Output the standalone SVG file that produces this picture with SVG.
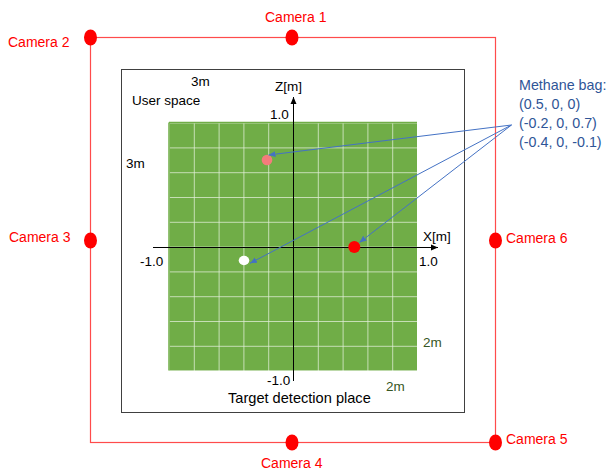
<svg xmlns="http://www.w3.org/2000/svg" width="609" height="471" viewBox="0 0 609 471">
  <defs>
    <marker id="axisHead" markerWidth="8" markerHeight="8" refX="7" refY="4" orient="auto" markerUnits="userSpaceOnUse">
      <path d="M0,1 L7,4 L0,7 Z" fill="#000"/>
    </marker>
    <marker id="leadHead" markerWidth="8" markerHeight="8" refX="7" refY="4" orient="auto" markerUnits="userSpaceOnUse">
      <path d="M0,1 L7,4 L0,7 Z" fill="#4472C4"/>
    </marker>
    <pattern id="grid" x="169" y="122.6" width="24.8" height="24.8" patternUnits="userSpaceOnUse">
      <rect width="24.8" height="24.8" fill="#70AD47"/>
      <path d="M0,0 H24.8 M0,0 V24.8" stroke="#E2EFD9" stroke-width="1.5" fill="none"/>
    </pattern>
  </defs>
  <style>
    text { font-family: "Liberation Sans", Arial, sans-serif; font-size: 13.5px; fill: #000; }
    .cam { fill: #FF0000; font-size: 14px; }
    .camdot { fill: #FF0000; }
    .bag { fill: #2F5597; font-size: 14.3px; }
    .dim { fill: #375623; }
    .lead { stroke: #4472C4; stroke-width: 1; fill: none; marker-end: url(#leadHead); }
    .axis { stroke: #000; stroke-width: 1; fill: none; }
  </style>

  <rect width="609" height="471" fill="#FFFFFF"/>

  <!-- camera rig frame -->
  <g id="frame">
    <rect x="90.5" y="37.5" width="405" height="405" fill="none" stroke="#FF4B4B" stroke-width="1.2"/>
  </g>

  <!-- user space -->
  <g id="user-space">
    <rect x="121.5" y="69.5" width="343" height="343" fill="none" stroke="#404040" stroke-width="1"/>
    <text x="132" y="105">User space</text>
    <text x="191" y="86">3m</text>
    <text x="126" y="168">3m</text>
  </g>

  <!-- target detection place -->
  <g id="target-area">
    <rect x="169" y="122.6" width="248" height="248" fill="url(#grid)"/>
    <path d="M169,122.6 H417 M169,122.6 V370.6" stroke="#70AD47" stroke-width="1.5"/>
    <text x="228" y="403" style="font-size:14.6px">Target detection place</text>
    <text class="dim" x="423" y="347">2m</text>
    <text class="dim" x="386" y="391">2m</text>
  </g>

  <!-- coordinate axes -->
  <g id="axes">
    <line class="axis" x1="293.5" y1="381" x2="293.5" y2="97" marker-end="url(#axisHead)"/>
    <line class="axis" x1="153" y1="247.5" x2="438" y2="247.5" marker-end="url(#axisHead)"/>
    <text x="275" y="91">Z[m]</text>
    <text x="270" y="119">1.0</text>
    <text x="423" y="241">X[m]</text>
    <text x="140" y="266">-1.0</text>
    <text x="419" y="266">1.0</text>
    <text x="267" y="385">-1.0</text>
  </g>

  <!-- methane bags -->
  <g id="bag-1">
    <circle cx="354.3" cy="247" r="6" fill="#FF0000"/>
  </g>
  <g id="bag-2">
    <circle cx="267" cy="160" r="5.3" fill="#F47C7C"/>
  </g>
  <g id="bag-3">
    <ellipse cx="244" cy="260.5" rx="5.3" ry="4.7" fill="#FFFFFF"/>
  </g>

  <g id="bag-label">
    <text class="bag" x="519" y="90">Methane bag:</text>
    <text class="bag" x="519" y="109">(0.5, 0, 0)</text>
    <text class="bag" x="519" y="128">(-0.2, 0, 0.7)</text>
    <text class="bag" x="519" y="147">(-0.4, 0, -0.1)</text>
  </g>

  <!-- leader lines -->
  <g id="connectors">
    <line class="lead" x1="511.5" y1="125" x2="268.5" y2="155"/>
    <line class="lead" x1="511.5" y1="125" x2="359.5" y2="242.5"/>
    <line class="lead" x1="511.5" y1="125" x2="250" y2="263.3"/>
  </g>

  <!-- cameras -->
  <g id="camera-1">
    <ellipse class="camdot" cx="292" cy="37.5" rx="6.5" ry="8"/>
    <text class="cam" x="265" y="22">Camera 1</text>
  </g>
  <g id="camera-2">
    <ellipse class="camdot" cx="90.5" cy="37.5" rx="6.5" ry="8"/>
    <text class="cam" x="8" y="47">Camera 2</text>
  </g>
  <g id="camera-3">
    <ellipse class="camdot" cx="90.5" cy="240.5" rx="6.5" ry="8"/>
    <text class="cam" x="9" y="242">Camera 3</text>
  </g>
  <g id="camera-4">
    <ellipse class="camdot" cx="292" cy="442.5" rx="6.5" ry="8"/>
    <text class="cam" x="261" y="468">Camera 4</text>
  </g>
  <g id="camera-5">
    <ellipse class="camdot" cx="495.5" cy="442.5" rx="6.5" ry="8"/>
    <text class="cam" x="506" y="444">Camera 5</text>
  </g>
  <g id="camera-6">
    <ellipse class="camdot" cx="495.5" cy="240.5" rx="6.5" ry="8"/>
    <text class="cam" x="506" y="243">Camera 6</text>
  </g>
</svg>
